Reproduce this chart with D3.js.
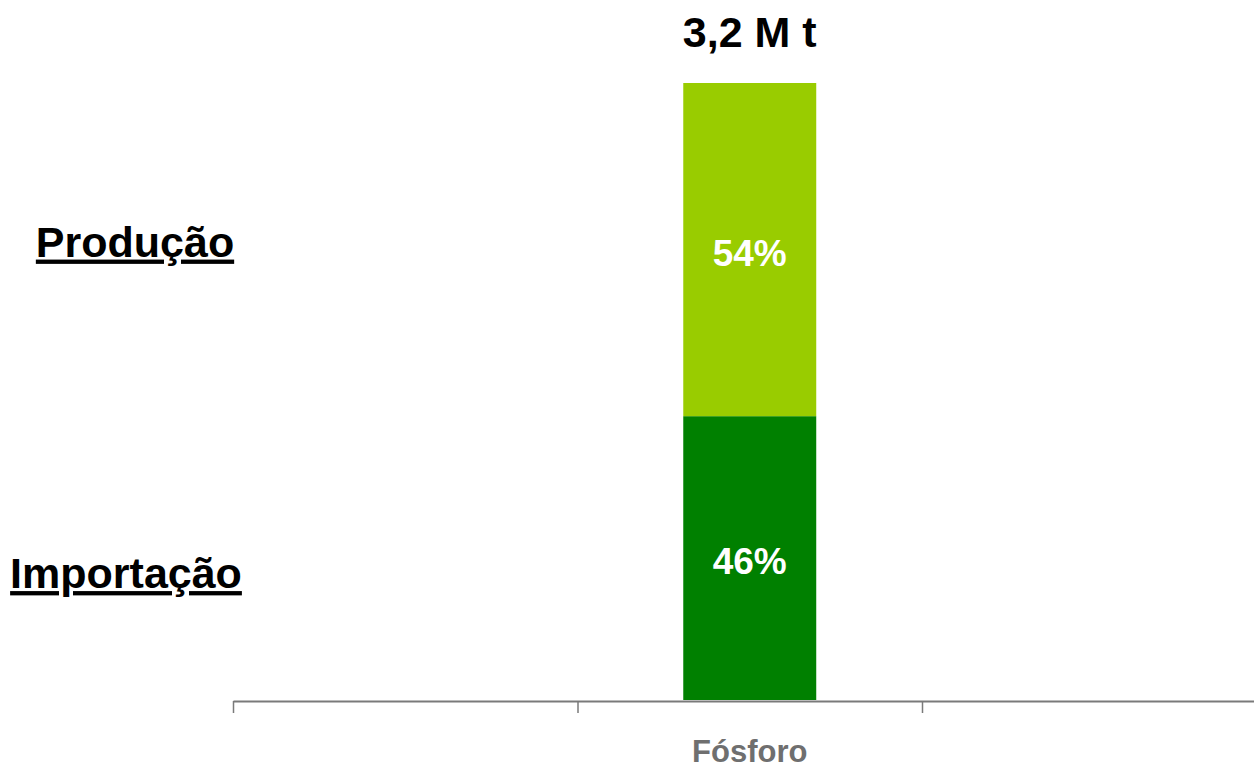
<!DOCTYPE html>
<html>
<head>
<meta charset="utf-8">
<script src="https://cdn.jsdelivr.net/npm/d3@7"></script>
<style>
  body { margin: 0; background: #fff; }
  text { font-family: "Liberation Sans", Arial, sans-serif; font-weight: bold; }
</style>
</head>
<body>
<svg id="chart" width="1254" height="769"></svg>
<script>
// data
const categories = ["", "Fósforo", ""];
const seriesNames = ["Importação", "Produção"];
const importValues = [null, 46, null];
const productionValues = [null, 54, null];
const totalLabels = [null, "3,2 M t", null];
const seriesColors = ["#008000", "#99cc00"];

const svg = d3.select("#chart");
const plotLeft = 233, plotRight = 1266.5, plotBottom = 700, plotTop = 83;

const x = d3.scaleLinear().domain([0, categories.length]).range([plotLeft, plotRight]);
const y = d3.scaleLinear().domain([0, 100]).range([plotBottom, plotTop]);
const barWidth = (x(1) - x(0)) * 0.386;

// stack
const rows = categories.map((c, i) => ({ cat: c, i, imp: importValues[i], prod: productionValues[i] }))
  .filter(d => d.imp != null);
const stack = d3.stack().keys(["imp", "prod"])(rows);

stack.forEach((layer, k) => {
  svg.append("g").selectAll("rect")
    .data(layer)
    .enter()
    .append("rect")
    .attr("x", d => x(d.data.i + 0.5) - barWidth / 2)
    .attr("y", d => y(d[1]))
    .attr("width", barWidth)
    .attr("height", d => y(d[0]) - y(d[1]))
    .attr("fill", seriesColors[k]);

  svg.append("g").selectAll("text")
    .data(layer)
    .enter()
    .append("text")
    .attr("x", d => x(d.data.i + 0.5))
    .attr("y", d => (y(d[0]) + y(d[1])) / 2 + 16)
    .attr("text-anchor", "middle")
    .attr("fill", "#fff")
    .attr("font-size", 37)
    .text(d => (d[1] - d[0]) + "%");
});

// total on top
svg.append("g").selectAll("text")
  .data(rows)
  .enter()
  .append("text")
  .attr("x", d => x(d.i + 0.5))
  .attr("y", d => y(d.imp + d.prod) - 36)
  .attr("text-anchor", "middle")
  .attr("fill", "#000")
  .attr("font-size", 43)
  .text(d => totalLabels[d.i]);

// x axis
const axis = svg.append("g")
  .attr("transform", "translate(0," + (plotBottom + 1) + ")")
  .call(d3.axisBottom(x).ticks(categories.length).tickFormat(() => "").tickSize(12).tickSizeOuter(0));
axis.select(".domain").attr("stroke", "#7a7a7a").attr("stroke-width", 2);
axis.selectAll(".tick line").attr("stroke", "#7a7a7a").attr("stroke-width", 1.5);

svg.append("g").selectAll("text")
  .data(categories)
  .enter()
  .append("text")
  .attr("x", (d, i) => x(i + 0.5))
  .attr("y", 762)
  .attr("text-anchor", "middle")
  .attr("fill", "#6f6f6f")
  .attr("font-size", 31)
  .text(d => d);

// series labels on the left
const seriesLabelX = [126, 135];
const seriesLabelY = [y(23) + 30, y(73) + 7];
svg.append("g").selectAll("text")
  .data(seriesNames)
  .enter()
  .append("text")
  .attr("x", (d, i) => seriesLabelX[i])
  .attr("y", (d, i) => seriesLabelY[i])
  .attr("text-anchor", "middle")
  .attr("fill", "#000")
  .attr("font-size", 43)
  .style("text-decoration", "underline")
  .text(d => d);
</script>
</body>
</html>
